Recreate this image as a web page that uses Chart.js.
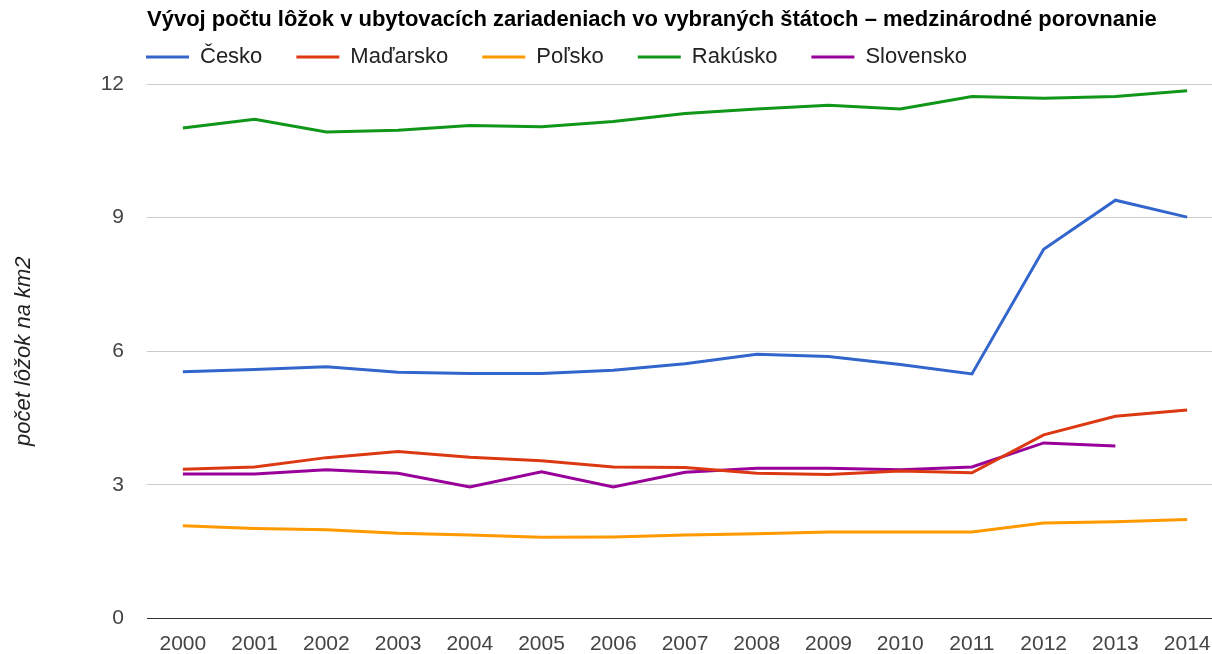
<!DOCTYPE html>
<html>
<head>
<meta charset="utf-8">
<script src="https://cdn.jsdelivr.net/npm/chart.js@4"></script>
<style>
  html, body { margin: 0; padding: 0; background: #fff; overflow: hidden; }
  #wrap { width: 1212px; height: 654px; overflow: hidden; }
</style>
</head>
<body>
<div id="wrap"><canvas id="c" width="1224" height="654"></canvas></div>
<script>
// roky
const years = ['2000','2001','2002','2003','2004','2005','2006','2007','2008','2009','2010','2011','2012','2013','2014'];

// počet lôžok na km2 (odčítané z grafu)
const cesko     = [5.54, 5.59, 5.65, 5.53, 5.50, 5.50, 5.57, 5.72, 5.93, 5.88, 5.70, 5.49, 8.29, 9.39, 9.01];
const madarsko  = [3.35, 3.40, 3.61, 3.75, 3.62, 3.54, 3.40, 3.39, 3.26, 3.23, 3.31, 3.27, 4.12, 4.54, 4.68];
const polsko    = [2.08, 2.02, 1.99, 1.91, 1.87, 1.82, 1.83, 1.87, 1.90, 1.94, 1.94, 1.94, 2.14, 2.17, 2.22];
const rakusko   = [11.01, 11.21, 10.92, 10.96, 11.07, 11.04, 11.16, 11.34, 11.44, 11.52, 11.44, 11.72, 11.68, 11.72, 11.85];
const slovensko = [3.24, 3.24, 3.34, 3.26, 2.95, 3.29, 2.95, 3.28, 3.37, 3.37, 3.34, 3.40, 3.94, 3.87, null];

const yTicks = [0, 3, 6, 9, 12];

Chart.defaults.font.family = '"Liberation Sans", Arial, sans-serif';

function line(label, data, color) {
  return {
    label,
    data,
    borderColor: color,
    backgroundColor: color,
    borderWidth: 3,
    pointRadius: 0,
    pointHoverRadius: 0,
    tension: 0,
    spanGaps: false
  };
}

// posun legendy doľava/hore (Chart.js ju inak odsadí o padding)
const legendShift = {
  id: 'legendShift',
  afterLayout(chart) {
    const lg = chart.legend;
    lg.left -= 35; lg.right -= 35;
    lg.top -= 21.4;
  }
};

new Chart(document.getElementById('c'), {
  type: 'line',
  data: {
    labels: years,
    datasets: [
      line('Česko', cesko, '#3366cc'),
      line('Maďarsko', madarsko, '#dc3912'),
      line('Poľsko', polsko, '#ff9900'),
      line('Rakúsko', rakusko, '#109618'),
      line('Slovensko', slovensko, '#990099')
    ]
  },
  options: {
    responsive: false,
    animation: false,
    layout: { padding: { left: 0, right: 1, top: 0, bottom: 0 } },
    plugins: {
      tooltip: { enabled: false },
      title: {
        display: true,
        text: 'Vývoj počtu lôžok v ubytovacích zariadeniach vo vybraných štátoch – medzinárodné porovnanie',
        align: 'start',
        fullSize: false,
        color: '#000',
        font: { size: 22, weight: 'bold' },
        padding: { top: 7, bottom: 0 }
      },
      legend: {
        display: true,
        position: 'top',
        align: 'start',
        fullSize: false,
        maxHeight: 50.6,
        labels: {
          usePointStyle: true,
          pointStyle: 'line',
          pointStyleWidth: 43,
          padding: 34,
          color: '#222',
          font: { size: 22 }
        }
      }
    },
    scales: {
      x: {
        offset: true,
        grid: { display: false, drawTicks: false },
        border: { display: true, color: '#333', width: 1 },
        ticks: { color: '#444', font: { size: 21 }, padding: 13, maxRotation: 0, autoSkip: false },
        afterFit(scale) { scale.height = 33; }
      },
      y: {
        min: 0,
        max: 12,
        afterBuildTicks(scale) { scale.ticks = yTicks.map(v => ({ value: v })); },
        grid: {
          drawTicks: false,
          color: ctx => (ctx.tick && ctx.tick.value === 0) ? '#333' : '#cccccc',
          lineWidth: 1
        },
        border: { display: false },
        ticks: { color: '#444', font: { size: 21 }, padding: 23 },
        title: {
          display: true,
          text: 'počet lôžok na km2',
          color: '#222',
          font: { size: 22, style: 'italic' },
          padding: { top: 11, bottom: 0 }
        },
        afterFit(scale) { scale.width = 147; }
      }
    }
  },
  plugins: [legendShift]
});
</script>
</body>
</html>
